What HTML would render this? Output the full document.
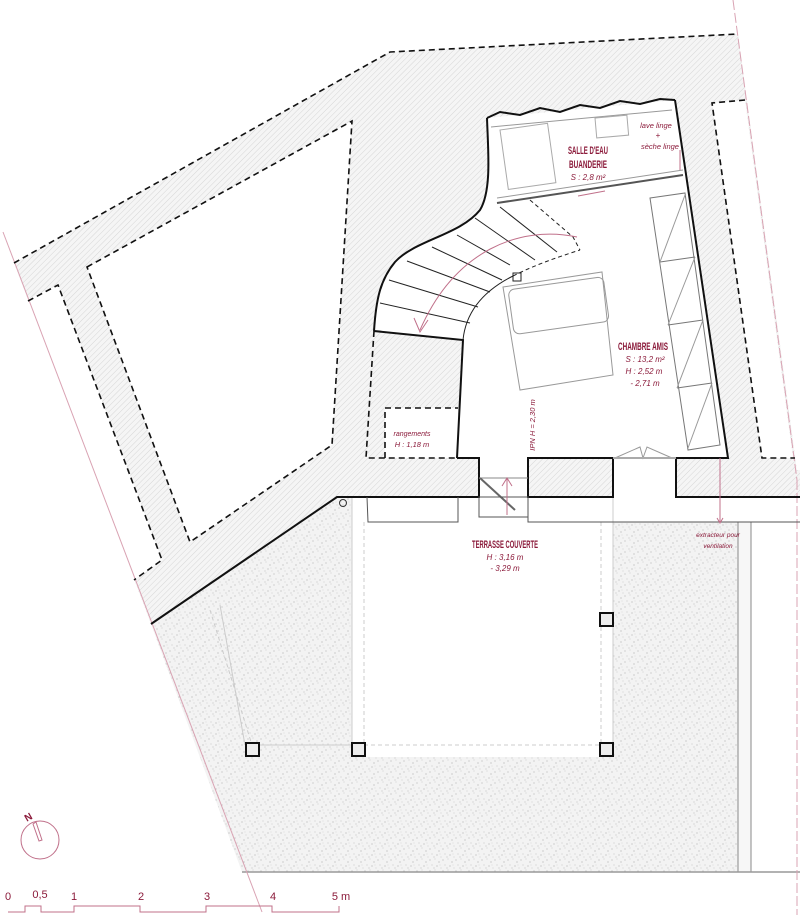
<!DOCTYPE html>
<html><head><meta charset="utf-8"><style>html,body{margin:0;padding:0;background:#fff}svg{display:block}</style></head>
<body>
<svg width="800" height="915" viewBox="0 0 800 915" xmlns="http://www.w3.org/2000/svg">
<defs>
<pattern id="h" width="4" height="4" patternUnits="userSpaceOnUse" patternTransform="rotate(45)">
<rect width="4" height="4" fill="#f5f5f5"/><line x1="0" y1="0" x2="0" y2="4" stroke="#d6d6d6" stroke-width="1"/></pattern>
<pattern id="s" width="13" height="11" patternUnits="userSpaceOnUse">
<rect width="13" height="11" fill="#f3f3f3"/>
<circle cx="1" cy="2" r=".6" fill="#bbb"/><circle cx="6" cy="1" r=".5" fill="#c4c4c4"/><circle cx="10" cy="4" r=".6" fill="#b0b0b0"/>
<circle cx="3" cy="7" r=".5" fill="#bbb"/><circle cx="8" cy="8" r=".6" fill="#b6b6b6"/><circle cx="12" cy="10" r=".5" fill="#c4c4c4"/>
<circle cx="5" cy="10" r=".5" fill="#b0b0b0"/><circle cx="11" cy="7" r=".4" fill="#bbb"/></pattern>
</defs>
<g fill="none">
<polygon points="151,624 337,497 800,497 800,872 242,872" fill="url(#s)"/>
<rect x="738" y="497" width="62" height="375" fill="#fff"/>
<rect x="738" y="497" width="13" height="375" fill="#f7f7f7"/>
<line x1="738" y1="497" x2="738" y2="872" stroke="#888"/>
<line x1="751" y1="497" x2="751" y2="872" stroke="#888"/>
<line x1="242" y1="872" x2="800" y2="872" stroke="#999" stroke-width="1.5"/>
<rect x="352" y="497" width="261" height="260" fill="#fff"/>
<rect x="352" y="497" width="448" height="25" fill="#fff"/>
<line x1="352" y1="497" x2="352" y2="757" stroke="#ccc"/>
<line x1="613" y1="497" x2="613" y2="757" stroke="#ccc"/>
<line x1="364" y1="522" x2="364" y2="745" stroke="#ccc" stroke-dasharray="4 3"/>
<line x1="601" y1="522" x2="601" y2="745" stroke="#ccc" stroke-dasharray="4 3"/>
<line x1="364" y1="745" x2="601" y2="745" stroke="#ccc" stroke-dasharray="4 3"/>
<line x1="252" y1="745" x2="352" y2="745" stroke="#ccc"/>
<line x1="210" y1="610" x2="252" y2="745" stroke="#ccc" stroke-dasharray="4 3"/>
<line x1="220" y1="605" x2="245" y2="745" stroke="#ccc"/>
<polygon points="14,263 390,52 738,34 797,470 800,470 800,497 337,497 151,624" fill="url(#h)"/>
<polygon points="87,267 352,121 332,445 190,542" fill="#fff"/>
<polygon points="26,300 58,285 162,560 134,580" fill="#fff"/>
<polygon points="712,103 745,100 793,458 762,458" fill="#fff"/>
<path d="M487,118 L675,100 L728,458 L457,458 L463,340 L374,331 C376,300 380,280 395,262 C415,240 460,235 480,210 C492,190 488,150 487,118 Z" fill="#fff"/>
<rect x="385" y="408" width="73" height="50" fill="#fff"/>
<rect x="479" y="457" width="49" height="40" fill="#fff"/>
<rect x="613" y="457" width="63" height="40" fill="#fff"/>
<polygon points="797,470 800,470 800,0 735,0" fill="#fff"/>
<line x1="3" y1="232" x2="262" y2="912" stroke="#d9a3b3"/>
<line x1="733" y1="0" x2="797" y2="480" stroke="#d9a3b3" stroke-dasharray="10 3"/>
<line x1="797" y1="480" x2="797" y2="915" stroke="#d9a3b3" stroke-dasharray="10 3"/>
<g stroke="#111" stroke-width="1.6" stroke-dasharray="6 4">
<polyline points="14,263 390,52 738,34"/>
<polygon points="87,267 352,121 332,445 190,542"/>
<polyline points="28,301 58,285 162,560 134,580"/>
<polyline points="745,100 712,103 762,458 795,458"/>
<polyline points="374,331 366,458 457,458"/>
<polyline points="385,458 385,408 458,408"/>
</g>
<g stroke="#111" stroke-width="2">
<polyline points="151,624 337,497 479,497 479,458 457,458"/>
<path d="M487,118 C488,150 492,190 480,210 C460,235 415,240 395,262 C380,280 376,300 374,331"/>
<path d="M487,118 L500,112 L520,115 L540,108 L560,112 L580,105 L600,108 L620,101 L640,104 L660,99 L675,100"/>
<polyline points="675,100 728,458 676,458 676,497 800,497"/>
<rect x="528" y="458" width="85" height="39"/>
<polyline points="374,331 463,340 457,458"/>
<rect x="246" y="743" width="13" height="13" fill="#eee"/>
<rect x="352" y="743" width="13" height="13" fill="#eee"/>
<rect x="600" y="743" width="13" height="13" fill="#eee"/>
<rect x="600" y="613" width="13" height="13" fill="#eee"/>
</g>
<g stroke="#222" stroke-width="1">
<path d="M463,340 C466,310 485,290 513,276"/>
<path d="M513,276 C535,265 555,258 580,250" stroke-dasharray="4 3"/>
<line x1="380" y1="303" x2="470" y2="323"/><line x1="389" y1="280" x2="478" y2="307"/>
<line x1="407" y1="261" x2="490" y2="292"/><line x1="432" y1="247" x2="502" y2="280"/>
<line x1="457" y1="235" x2="510" y2="265"/><line x1="475" y1="218" x2="535" y2="260"/>
<line x1="500" y1="207" x2="557" y2="252"/>
<polyline points="530,200 573,237 580,250" stroke-dasharray="4 3"/>
<rect x="513" y="273" width="8" height="8"/>
<line x1="497" y1="203" x2="683" y2="175" stroke-width="2" stroke="#555"/>
<line x1="497" y1="198" x2="683" y2="170" stroke="#999"/>
<polyline points="491,127 672,110" stroke="#999"/>
<rect x="500" y="130" width="48" height="60" stroke="#aaa" transform="rotate(-8 500 130)"/>
<rect x="595" y="118" width="32" height="20" stroke="#aaa" transform="rotate(-5 595 118)"/>
<polygon points="650,198 685,193 720,445 688,450" stroke="#777"/>
<line x1="660" y1="262" x2="695" y2="257" stroke="#777"/><line x1="668" y1="325" x2="703" y2="320" stroke="#777"/>
<line x1="677" y1="388" x2="712" y2="383" stroke="#777"/>
<line x1="660" y1="262" x2="685" y2="195" stroke="#999"/><line x1="668" y1="325" x2="695" y2="257" stroke="#999"/>
<line x1="677" y1="388" x2="703" y2="320" stroke="#999"/><line x1="688" y1="448" x2="712" y2="383" stroke="#999"/>
<polygon points="503,287 602,272 613,375 520,390" stroke="#999"/>
<rect x="508" y="290" width="96" height="45" rx="6" stroke="#999" transform="rotate(-8 508 290)"/>
<polyline points="615,458 640,447 643,458 647,447 672,458" stroke="#999"/>
<line x1="479" y1="478" x2="528" y2="478" stroke="#888"/>
<line x1="480" y1="478" x2="515" y2="510" stroke="#666" stroke-width="2"/>
<rect x="479" y="497" width="49" height="20" stroke="#555"/>
<polyline points="367,497 368,522 458,522 458,497" stroke="#555"/>
<polyline points="528,497 528,522 800,522" stroke="#555"/>
<line x1="613" y1="458" x2="676" y2="458" stroke="#aaa" stroke-width="2"/>
</g>
<circle cx="343" cy="503" r="3.5" stroke="#333"/>
<g stroke="#c0708a" stroke-width="1">
<path d="M577,237 C520,225 455,250 420,330"/>
<polyline points="414,318 420,332 428,320"/>
<line x1="507" y1="515" x2="507" y2="478"/><polyline points="502,486 507,478 512,486"/>
<line x1="720" y1="458" x2="720" y2="522"/><polyline points="717,518 720,523 723,518"/>
<line x1="680" y1="150" x2="680" y2="170"/>
<line x1="578" y1="196" x2="605" y2="191"/>
</g>
<g font-family="Liberation Sans, sans-serif" fill="#8b1a3a" text-anchor="middle">
<text x="588" y="154" font-size="11" font-weight="bold" textLength="40" lengthAdjust="spacingAndGlyphs">SALLE D'EAU</text>
<text x="588" y="168" font-size="11" font-weight="bold" textLength="38" lengthAdjust="spacingAndGlyphs">BUANDERIE</text>
<text x="588" y="180" font-size="8" font-style="italic">S : 2,8 m²</text>
<text x="656" y="128" font-size="7.5" font-style="italic">lave linge</text>
<text x="658" y="138" font-size="8">+</text>
<text x="660" y="149" font-size="7.5" font-style="italic">sèche linge</text>
<text x="643" y="350" font-size="11" font-weight="bold" textLength="50" lengthAdjust="spacingAndGlyphs">CHAMBRE AMIS</text>
<text x="645" y="362" font-size="8" font-style="italic">S : 13,2 m²</text>
<text x="644" y="374" font-size="8" font-style="italic">H : 2,52 m</text>
<text x="645" y="386" font-size="8" font-style="italic">- 2,71 m</text>
<text x="412" y="436" font-size="7" font-style="italic">rangements</text>
<text x="412" y="447" font-size="7.5" font-style="italic">H : 1,18 m</text>
<text x="505" y="548" font-size="11" font-weight="bold" textLength="66" lengthAdjust="spacingAndGlyphs">TERRASSE COUVERTE</text>
<text x="505" y="560" font-size="8" font-style="italic">H : 3,16 m</text>
<text x="505" y="571" font-size="8" font-style="italic">- 3,29 m</text>
<text x="718" y="537" font-size="6.5" font-style="italic">extracteur pour</text>
<text x="718" y="548" font-size="6.5" font-style="italic">ventilation</text>
<text x="535" y="425" font-size="7.5" font-style="italic" transform="rotate(-90 535 425)">IPN H = 2,30 m</text>
<text x="30" y="820" font-size="10" font-weight="bold" transform="rotate(-30 30 820)">N</text>
<g font-size="11"><text x="8" y="900">0</text><text x="40" y="898">0,5</text><text x="74" y="900">1</text><text x="141" y="900">2</text><text x="207" y="900">3</text><text x="273" y="900">4</text><text x="341" y="900">5 m</text></g>
</g>
<circle cx="40" cy="840" r="19" stroke="#c0708a"/>
<polygon points="33,824 36,822 42,840 39,841" stroke="#c0708a" fill="#fff"/>
<polyline points="8,912 25,912 25,906 41,906 41,912 74,912 74,906 140,906 140,912 206,912 206,906 272,906 272,912 339,912 339,906" stroke="#c0708a"/>
</g>
</svg>
</body></html>
